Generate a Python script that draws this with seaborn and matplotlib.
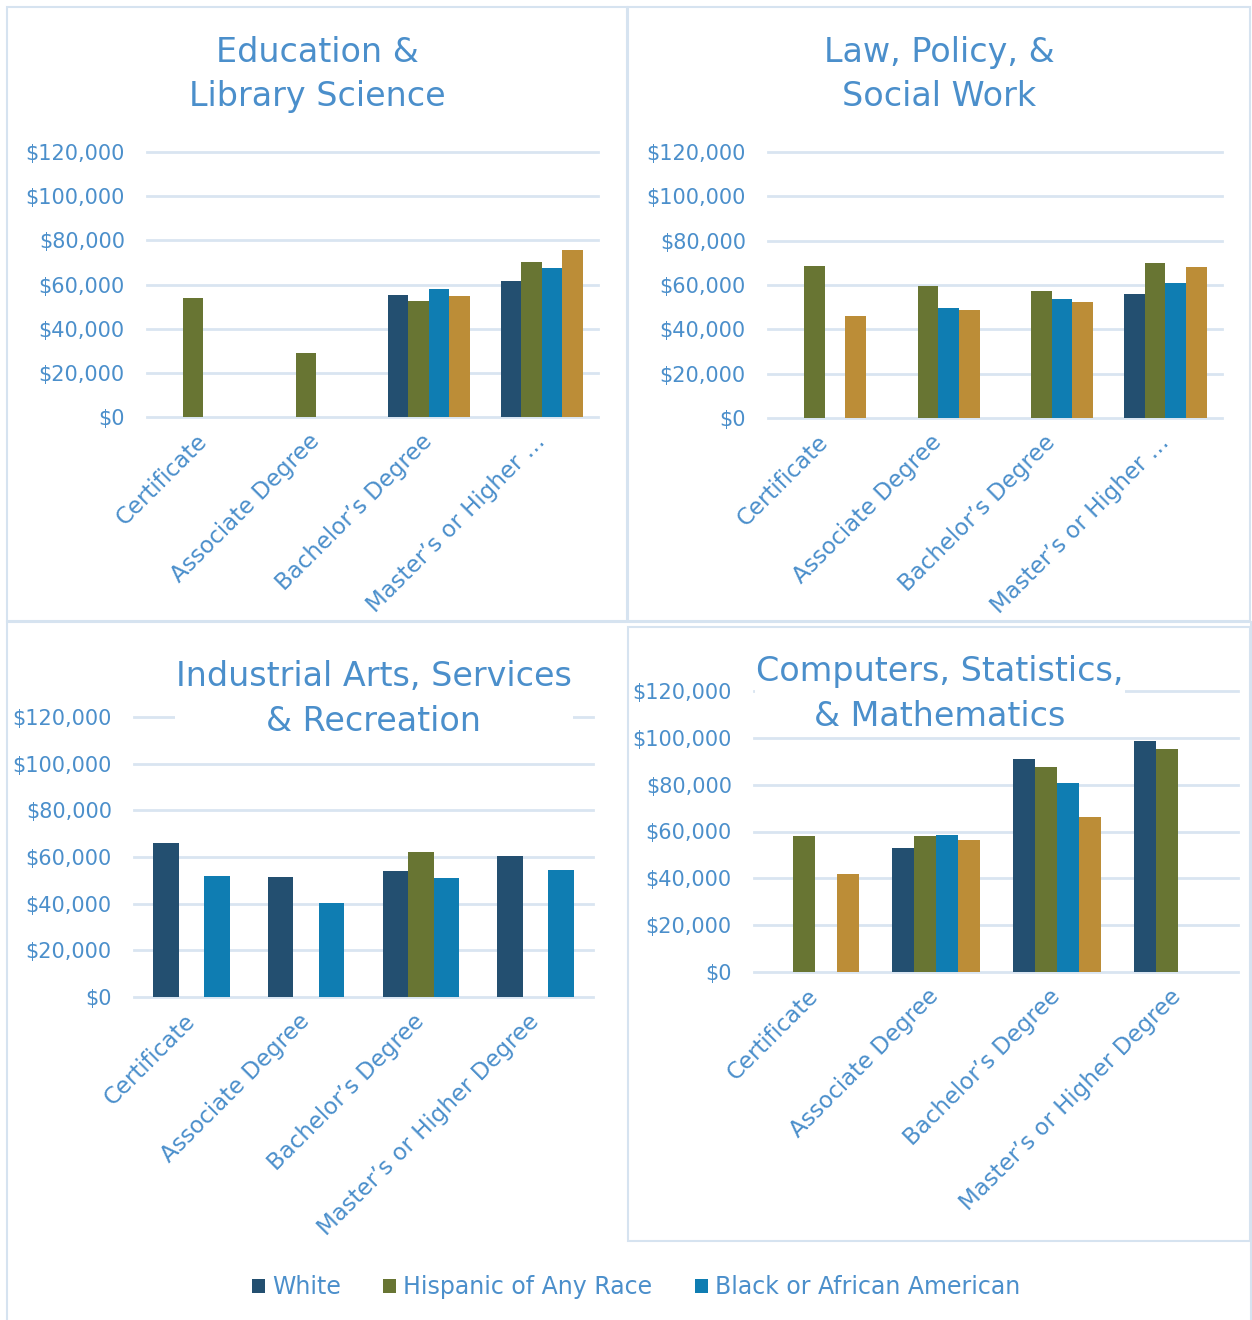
import numpy as np
import pandas as pd
import matplotlib
matplotlib.use('Agg')
import matplotlib.pyplot as plt
import matplotlib.ticker as ticker
from matplotlib.patches import Rectangle, Patch
import seaborn as sns

# ---------------- data ----------------
degrees = ['Certificate', 'Associate Degree', "Bachelor\u2019s Degree", "Master\u2019s or Higher Degree"]
top_ticklabels = ['Certificate', 'Associate Degree', "Bachelor\u2019s Degree", "Master\u2019s or Higher \u2026"]
bottom_ticklabels = ['Certificate', 'Associate Degree', "Bachelor\u2019s Degree", "Master\u2019s or Higher Degree"]
races = ['White', 'Hispanic of Any Race', 'Black or African American', 'Asian']

# Education & Library Science
edu_white = [None, None, 55300, 61400]
edu_hisp = [54000, 29000, 52400, 70000]
edu_black = [None, None, 58000, 67300]
edu_asian = [None, None, 54900, 75600]

# Law, Policy, & Social Work
law_white = [None, None, None, 55900]
law_hisp = [68700, 59400, 57100, 69800]
law_black = [None, 49500, 53500, 61000]
law_asian = [46100, 48700, 52200, 68000]

# Industrial Arts, Services & Recreation
ind_white = [65900, 51600, 54000, 60400]
ind_hisp = [None, None, 62100, None]
ind_black = [51900, 40300, 50900, 54300]

# Computers, Statistics, & Mathematics
cmp_white = [None, 52900, 90800, 98600]
cmp_hisp = [58000, 57900, 87600, 95200]
cmp_black = [None, 58400, 80500, None]
cmp_asian = [42000, 56400, 66400, None]

colors = {'White': '#234F70', 'Hispanic of Any Race': '#687533',
          'Black or African American': '#0F7DB2', 'Asian': '#BC8D37'}
text_color = '#4B8FCB'
grid_color = '#D9E5F1'
border_color = '#D6E3F0'

plt.rcParams['font.family'] = ['DejaVu Sans']

W, H = 1252, 1320


def long_df(series):
    rows = []
    for race, vals in series.items():
        for deg, v in zip(degrees, vals):
            if v is not None:
                rows.append({'degree': deg, 'race': race, 'salary': v})
    return pd.DataFrame(rows)


def px_axes(fig, left, top, right, bottom):
    return fig.add_axes([left / W, 1 - bottom / H, (right - left) / W, (bottom - top) / H])


def px_rect(x0, y0, x1, y1, **kw):
    return Rectangle((x0 / W, 1 - y1 / H), (x1 - x0) / W, (y1 - y0) / H,
                     transform=fig.transFigure, **kw)


fig = plt.figure(figsize=(W / 100, H / 100), dpi=100)
fig.patch.set_facecolor('white')

# panel frames
fig.add_artist(px_rect(7, 622, 1251, 1330, fill=False, edgecolor=border_color, lw=1.5, zorder=-3))
fig.add_artist(px_rect(7, 7, 627, 621, fill=False, edgecolor=border_color, lw=1.5, zorder=-2))
fig.add_artist(px_rect(628, 7, 1250, 621, fill=False, edgecolor=border_color, lw=1.5, zorder=-2))
fig.add_artist(px_rect(628, 627, 1250, 1241, facecolor='white', edgecolor=border_color, lw=1.5, zorder=-1))

panels = [
    dict(title='Education &\nLibrary Science', box=(147, 152, 598, 417), tc=(317, 74.5),
         series={'White': edu_white, 'Hispanic of Any Race': edu_hisp,
                 'Black or African American': edu_black, 'Asian': edu_asian},
         labels=top_ticklabels),
    dict(title='Law, Policy, &\nSocial Work', box=(768, 152, 1222, 418), tc=(939, 74.5),
         series={'White': law_white, 'Hispanic of Any Race': law_hisp,
                 'Black or African American': law_black, 'Asian': law_asian},
         labels=top_ticklabels),
    dict(title='Industrial Arts, Services\n& Recreation', box=(134, 717, 593, 997), tc=(374, 699),
         series={'White': ind_white, 'Hispanic of Any Race': ind_hisp,
                 'Black or African American': ind_black},
         labels=bottom_ticklabels),
    dict(title='Computers, Statistics,\n& Mathematics', box=(754, 691, 1238, 972), tc=(940, 694),
         series={'White': cmp_white, 'Hispanic of Any Race': cmp_hisp,
                 'Black or African American': cmp_black, 'Asian': cmp_asian},
         labels=bottom_ticklabels),
]

for p in panels:
    ax = px_axes(fig, *p['box'])
    ax.set_facecolor('none')
    df = long_df(p['series'])
    hue_order = list(p['series'].keys())
    n = len(hue_order)
    sns.barplot(data=df, x='degree', y='salary', hue='race', order=degrees,
                hue_order=hue_order, palette=colors, width=n / (n + 1.5), gap=0,
                errorbar=None, saturation=1, linewidth=0, legend=False, ax=ax)
    ax.set_xlim(-0.5, 3.5)
    ax.set_ylim(0, 120000)
    ax.set_yticks(np.arange(0, 120001, 20000))
    ax.yaxis.set_major_formatter(ticker.StrMethodFormatter('${x:,.0f}'))
    ax.yaxis.grid(True, color=grid_color, lw=2)
    for gl in ax.get_ygridlines():
        gl.set_clip_on(False)
    ax.set_axisbelow(True)
    for s in ax.spines.values():
        s.set_visible(False)
    ax.set_xlabel('')
    ax.set_ylabel('')
    ax.tick_params(axis='both', length=0, colors=text_color)
    ax.tick_params(axis='y', labelsize=15, pad=16)
    ax.tick_params(axis='x', labelsize=16.5, pad=15)
    ax.set_xticks(range(len(degrees)))
    ax.set_xticklabels(p['labels'], rotation=45, ha='right', va='center',
                       rotation_mode='anchor', color=text_color)
    fig.text(p['tc'][0] / W, 1 - p['tc'][1] / H, p['title'], ha='center', va='center',
             fontsize=24, color=text_color, linespacing=1.45,
             bbox=dict(facecolor='white', edgecolor='none', pad=1), zorder=5)

# legend (gold series is not listed in the original)
handles = [Patch(facecolor=colors[r], edgecolor='none') for r in races[:3]]
leg = fig.legend(handles, races[:3], loc='center', bbox_to_anchor=(636 / W, 1 - 1287 / H),
                 ncol=3, frameon=False, fontsize=17, handlelength=0.55, handleheight=0.55,
                 handletextpad=0.3, columnspacing=1.8)
for t in leg.get_texts():
    t.set_color(text_color)

fig.savefig('out.png', dpi=100)
